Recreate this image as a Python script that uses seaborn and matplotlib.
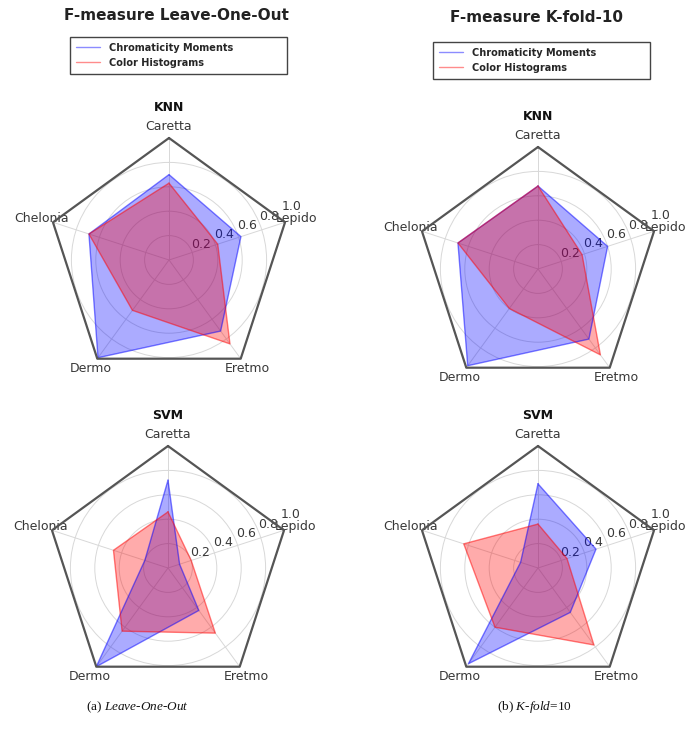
import numpy as np
import matplotlib
matplotlib.use("Agg")
import matplotlib.pyplot as plt
from matplotlib.lines import Line2D
from matplotlib.patches import Polygon
import seaborn as sns

SPECIES = ["Caretta", "Chelonia", "Dermo", "Eretmo", "Lepido"]
SERIES = ["Chromaticity Moments", "Color Histograms"]
RTICKS = [0.2, 0.4, 0.6, 0.8, 1.0]
RTICK_LABELS = ["0.2", "0.4", "0.6", "0.8", "1.0"]

# F-measure per species (counter-clockwise from the top)
knn_loo_cm = [0.70, 0.69, 0.99, 0.72, 0.62]
knn_loo_ch = [0.63, 0.69, 0.51, 0.85, 0.42]
knn_k10_cm = [0.68, 0.69, 0.98, 0.71, 0.60]
knn_k10_ch = [0.68, 0.69, 0.40, 0.87, 0.38]
svm_loo_cm = [0.72, 0.20, 1.00, 0.43, 0.10]
svm_loo_ch = [0.46, 0.47, 0.64, 0.66, 0.20]
svm_k10_cm = [0.69, 0.15, 0.97, 0.45, 0.50]
svm_k10_ch = [0.36, 0.64, 0.60, 0.78, 0.25]

COLUMN_TITLES = ["F-measure Leave-One-Out", "F-measure K-fold-10"]
CAPTIONS = [r"(a) $\mathit{Leave}$-$\mathit{One}$-$\mathit{Out}$",
            r"(b) $\mathit{K}$-$\mathit{fold}$=10"]

COLOR_CM = "#0000ff"
COLOR_CH = "#ff0000"
COLOR_FRAME = "#555555"
COLOR_TEXT = "#383838"

W, H = 685, 736


def draw_radar(ax, cm, ch, title):
    theta = np.linspace(0, 2 * np.pi, len(SPECIES), endpoint=False)
    theta_closed = np.append(theta, 2 * np.pi)
    ax.set_theta_offset(np.pi / 2)
    ax.set_ylim(0, 1)

    for vals, color in ((cm, COLOR_CM), (ch, COLOR_CH)):
        v = np.append(vals, vals[0])
        sns.lineplot(x=theta_closed, y=v, sort=False, estimator=None,
                     ax=ax, color=color, lw=1.0, alpha=0.5)
        ax.fill(theta_closed, v, color=color, alpha=0.33, lw=0)

    # pentagon frame instead of the circular spine
    rmax = ax.get_ylim()[1]
    ax.plot(theta_closed, np.full(len(theta_closed), rmax), color=COLOR_FRAME,
            lw=1.6, clip_on=False, zorder=4)
    ax.spines["polar"].set_visible(False)

    ax.grid(True, color="#d8d8d8", lw=0.7)
    ax.set_rgrids(RTICKS, labels=RTICK_LABELS, angle=-67.5,
                  fontsize=9, color=COLOR_TEXT)
    ax.set_thetagrids(np.degrees(theta), SPECIES, fontsize=9, color=COLOR_TEXT)
    ax.tick_params(axis="x", pad=1.5, length=0)
    ax.tick_params(axis="y", length=0)

    # keep the grid inside the pentagon
    frame = Polygon(np.column_stack([theta, np.full(len(theta), rmax)]),
                    closed=True, transform=ax.transData, fill=False)
    for gl in ax.yaxis.get_gridlines() + ax.xaxis.get_gridlines():
        gl.set_clip_path(frame)
    ax.set_xlabel("")
    ax.set_ylabel("")

    ax.text(0.5, 1.127, title, transform=ax.transAxes, ha="center", va="center",
            fontsize=9, fontweight="bold", color="#111111")


def main():
    sns.set_theme(style="white")
    plt.rcParams["font.family"] = ["DejaVu Sans"]
    plt.rcParams["mathtext.fontset"] = "custom"
    plt.rcParams["mathtext.it"] = "Liberation Serif:italic"
    plt.rcParams["mathtext.rm"] = "Liberation Serif"

    fig = plt.figure(figsize=(W / 100, H / 100), dpi=100)

    def axes_at(cx, cy, r=122):
        return fig.add_axes([(cx - r) / W, 1 - (cy + r) / H, 2 * r / W, 2 * r / H],
                            projection="polar")

    ax_knn_loo = axes_at(169, 260)
    ax_knn_k10 = axes_at(538, 269)
    ax_svm_loo = axes_at(168, 568)
    ax_svm_k10 = axes_at(538, 568)

    draw_radar(ax_knn_loo, knn_loo_cm, knn_loo_ch, "KNN")
    draw_radar(ax_knn_k10, knn_k10_cm, knn_k10_ch, "KNN")
    draw_radar(ax_svm_loo, svm_loo_cm, svm_loo_ch, "SVM")
    draw_radar(ax_svm_k10, svm_k10_cm, svm_k10_ch, "SVM")

    handles = [Line2D([], [], color=COLOR_CM, lw=1.0, alpha=0.45),
               Line2D([], [], color=COLOR_CH, lw=1.0, alpha=0.45)]

    for x0, y0, tx, ty, ctx, title, caption in (
        (70, 37, 176, 16, 137, COLUMN_TITLES[0], CAPTIONS[0]),
        (433, 42, 536, 17, 534, COLUMN_TITLES[1], CAPTIONS[1]),
    ):
        fig.text(tx / W, 1 - ty / H, title, ha="center", va="center",
                 fontsize=11, fontweight="bold", color="#222222")
        leg = fig.legend(handles, SERIES, loc="upper left", mode="expand",
                         bbox_to_anchor=(x0 / W, 1 - (y0 + 43) / H, 217 / W, 43 / H),
                         borderaxespad=0, borderpad=0.6, labelspacing=0.5,
                         handlelength=2.5, handletextpad=0.9, fancybox=False,
                         framealpha=1, edgecolor="#444444",
                         prop={"size": 7, "weight": "bold"})
        leg.get_frame().set_linewidth(1.0)
        fig.text(ctx / W, 1 - 707 / H, caption, ha="center", va="center",
                 fontsize=9.5, family="Liberation Serif", color="#111111")

    fig.savefig("out.png", dpi=100)


if __name__ == "__main__":
    main()
